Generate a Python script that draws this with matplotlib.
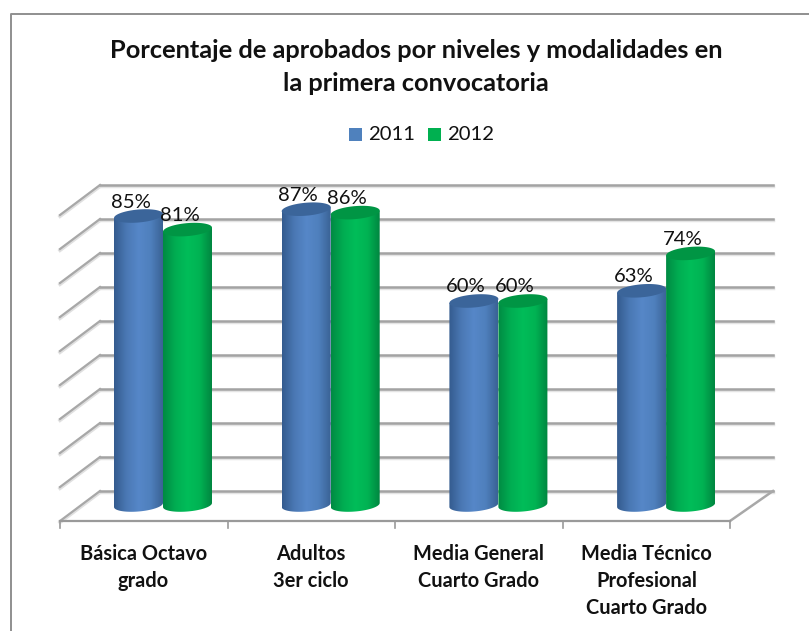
import numpy as np
import matplotlib
matplotlib.use("Agg")
import matplotlib.pyplot as plt
from matplotlib.patches import Rectangle, Polygon
from matplotlib.colors import LinearSegmentedColormap

plt.rcParams['font.family'] = ['Lato', 'DejaVu Sans']

TITLE = "Porcentaje de aprobados por niveles y modalidades en\nla primera convocatoria"
categories = ["Básica Octavo\ngrado", "Adultos\n3er ciclo", "Media General\nCuarto Grado",
              "Media Técnico\nProfesional\nCuarto Grado"]
series_names = ["2011", "2012"]
values_2011 = [85, 87, 60, 63]
values_2012 = [81, 86, 60, 74]
grid_values = np.arange(0, 100, 10)

W, H = 809, 631
PX_Y = 3.4; BASE_Y = 505
PX_X = 167.7; BASE_X = 163
def Xp(p): return (p - BASE_X) / PX_X
def Yp(p): return (BASE_Y - p) / PX_Y

fig = plt.figure(figsize=(W/100, H/100), dpi=100)
ax = fig.add_axes([0, 0, 1, 1])
ax.set_xlim(Xp(0), Xp(W)); ax.set_ylim(Yp(H), Yp(0)); ax.axis('off')

# chart frame: only the top and left edges fall inside the picture
ax.plot([Xp(10.5), Xp(10.5), Xp(809)], [Yp(631), Yp(13.5), Yp(13.5)], color='#8f8f8f', lw=1.4, zorder=1)

wall_off = 14 / PX_Y
front_off = -16 / PX_Y
xl_f, xl_b, xr_b, xr_f = Xp(60), Xp(100), Xp(773), Xp(730)
for g in grid_values:
    yb = g + wall_off; yf = g + front_off
    ax.plot([xl_b, xr_b], [yb-0.4, yb-0.4], color='#e4e4e4', lw=2.5, zorder=1.5)
    ax.plot([xl_b, xr_b], [yb, yb], color='#a3a3a3', lw=1.8, zorder=2)
    ax.plot([xl_f, xl_b], [yf-0.4, yb-0.4], color='#e0e0e0', lw=2.5, zorder=1.5)
    ax.plot([xl_f, xl_b], [yf, yb], color='#a8a8a8', lw=1.6, zorder=2)
ax.plot([xr_f, xr_b], [front_off, wall_off], color='#a8a8a8', lw=1.8, zorder=2)

ax.plot([xl_f, xr_f], [front_off, front_off], color='#9a9a9a', lw=1.6, zorder=2)
tick_step = (730 - 60) / 4
for i in range(5):
    x = Xp(60 + i * tick_step)
    ax.plot([x, x], [front_off, front_off - 7/PX_Y], color='#9a9a9a', lw=1.2, zorder=2)

body_blue = LinearSegmentedColormap.from_list('b', ['#345b8e', '#4a78b4', '#5687c8', '#4f80bd', '#3a6295'])
body_green = LinearSegmentedColormap.from_list('g', ['#008a43', '#00ad52', '#00bd59', '#00b353', '#008640'])
top_colors = ['#3b659a', '#009544']
grad = np.linspace(0, 1, 128).reshape(1, -1)
bw = 49 / PX_X
rx = bw / 2
ry_top = 6.5 / PX_Y
ry_bot = 6.5 / PX_Y
slope = (2 / PX_Y) / rx   # tilt of the cylinder caps

def cap_edge(cx, v, ry, t):
    xs = cx + rx * np.cos(t)
    ys = v + ry * np.sin(t) + slope * (xs - cx)
    return np.column_stack([xs, ys])

def cylinder(x0, v, cmap, top, z):
    x1 = x0 + bw; cx = x0 + rx
    t = np.linspace(np.pi, 2*np.pi, 40)
    bottom = cap_edge(cx, 0, ry_bot, t)
    verts = np.vstack([bottom, [[x1, v + slope*rx]], [[x0, v - slope*rx]]])
    clip = Polygon(verts, closed=True, transform=ax.transData, fc='none', ec='none')
    ax.add_patch(clip)
    im = ax.imshow(grad, extent=[x0, x1, -ry_bot-3, v+3], cmap=cmap, aspect='auto', zorder=z, interpolation='bilinear')
    im.set_clip_path(clip)
    ax.add_patch(Polygon(cap_edge(cx, v, ry_top, np.linspace(0, 2*np.pi, 60)), closed=True, fc=top, ec='none', zorder=z+0.1))

label_dx = -8 / PX_X
label_dy = 15.5 / PX_Y
for i, (a, b) in enumerate(zip(values_2011, values_2012)):
    cylinder(i - bw, a, body_blue, top_colors[0], 3+i)
    cylinder(i, b, body_green, top_colors[1], 3.4+i)
    ax.text(i - bw/2 + label_dx, a + label_dy, f"{a}%", ha='center', va='center_baseline', fontsize=14.6, color='#111111', zorder=9)
    ax.text(i + bw/2 + label_dx, b + label_dy, f"{b}%", ha='center', va='center_baseline', fontsize=14.6, color='#111111', zorder=9)

cat_dx = -19.5 / PX_X
for i, c in enumerate(categories):
    ax.text(i + cat_dx, Yp(544), c, ha='center', va='top', fontsize=14.4, fontweight='bold', color='#111111', linespacing=1.45)

ax.text(Xp(416), Yp(67), TITLE, ha='center', va='center', fontsize=18.3, fontweight='bold', color='#111111', linespacing=1.48)

for name, xp, col in zip(series_names, [349, 428], ['#4f81bd', '#00b050']):
    ax.add_patch(Rectangle((Xp(xp), Yp(141)), 13/PX_X, 13/PX_Y, fc=col, ec='none', zorder=5))
    ax.text(Xp(xp+19), Yp(135), name, ha='left', va='center', fontsize=14.6, color='#111111')

fig.savefig('out.png', dpi=100, facecolor='white')
